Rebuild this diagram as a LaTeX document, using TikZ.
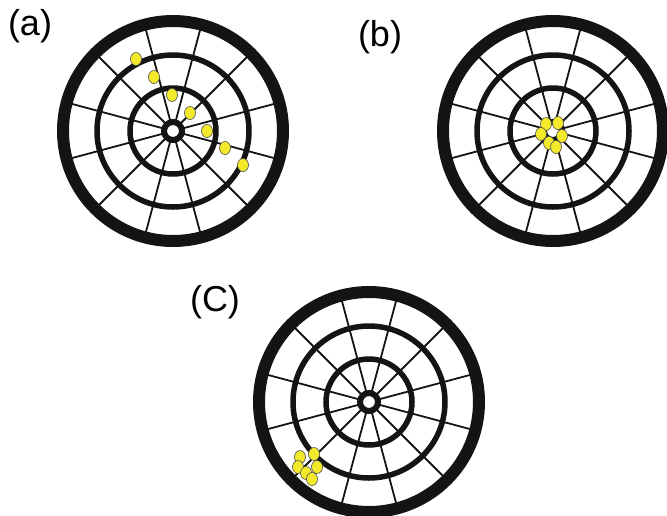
\documentclass[tikz,border=0pt]{standalone}
\usepackage{fontspec}
\setmainfont{Liberation Sans}
\definecolor{dotyellow}{HTML}{F4EA2C}
\definecolor{ink}{HTML}{141414}
\tikzset{
  outerring/.style={draw=ink, line width=12pt},
  midring/.style={draw=ink, line width=5.5pt},
  bullring/.style={draw=ink, line width=6pt},
  spoke/.style={draw=ink, line width=1.8pt},
  hit/.style={fill=dotyellow, draw=black!70, line width=0.6pt},
  lbl/.style={font=\fontsize{36}{40}\selectfont, inner sep=0pt}
}
\newcommand{\dartboard}[2]{%
  \begin{scope}[shift={(#1,#2)}]
    \foreach \a in {15,45,...,345}{\draw[spoke] (\a:11) -- (\a:106);}
    \draw[outerring] (0,0) circle (110);
    \draw[midring] (0,0) circle (76);
    \draw[midring] (0,0) circle (43);
    \draw[bullring] (0,0) circle (9);
  \end{scope}}
\newcommand{\hitmark}[2]{\draw[hit] (#1,#2) ellipse (5.5 and 6.5);}
\begin{document}
\begin{tikzpicture}[x=1pt,y=-1pt]
\useasboundingbox (0,0) rectangle (667,515);
\dartboard{173}{131}
\dartboard{553}{131}
\dartboard{369}{402}
\node[lbl] (la) at (30,26) {(a)};
\node[lbl] (lb) at (380,37) {(b)};
\node[lbl] (lc) at (215,302) {(C)};
% (a) scattered
\foreach \x/\y in {136/59,154/77,172/95,190/113,207/131,225/148,243/165}{\hitmark{\x}{\y}}
% (b) centred
\foreach \x/\y in {546/124,558/123,541/134,562/136,549/143,556/147}{\hitmark{\x}{\y}}
% (c) grouped off centre
\foreach \x/\y in {300/457,314/454,298/467,317/467,306/473,312/479}{\hitmark{\x}{\y}}
\end{tikzpicture}
\end{document}
